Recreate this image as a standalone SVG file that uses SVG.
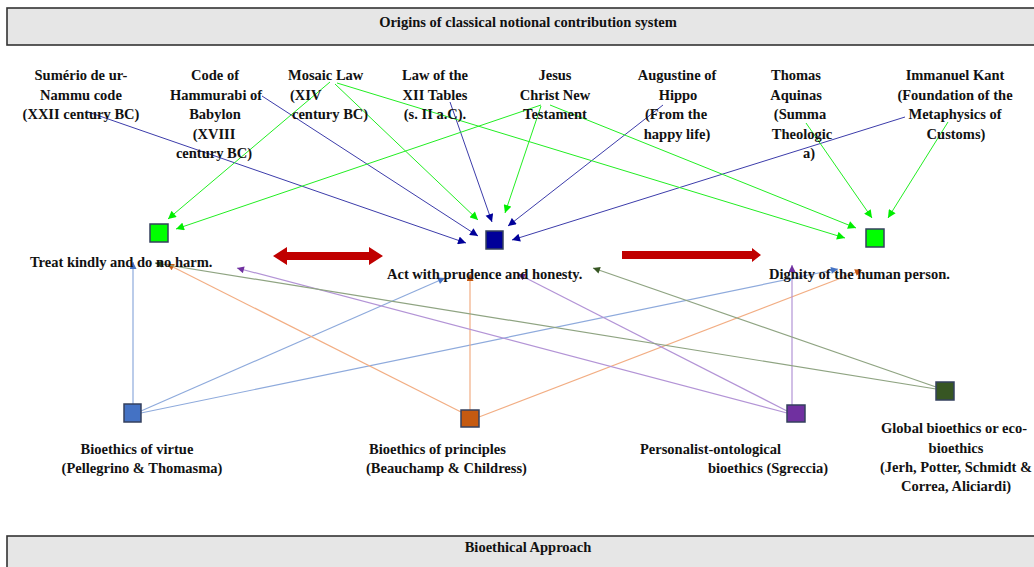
<svg xmlns="http://www.w3.org/2000/svg" width="1034" height="567" viewBox="0 0 1034 567">
<defs>
<style>
text{font-family:"Liberation Serif","Times New Roman",serif;font-weight:bold;font-size:14.5px;fill:#111}
.c{text-anchor:middle}
.hdr{fill:#e6e6e6;stroke:#333;stroke-width:1.6}
.sq{stroke:#34405e;stroke-width:1.5}
.nv{stroke:#3c3caa;stroke-width:1;fill:none;marker-end:url(#mNv)}
.gr{stroke:#22ee22;stroke-width:1;fill:none;marker-end:url(#mGr)}
.bl{stroke:#8eaadc;stroke-width:1.2;fill:none;marker-end:url(#mBl)}
.or{stroke:#f2ae84;stroke-width:1.2;fill:none;marker-end:url(#mOr)}
.pu{stroke:#b394d6;stroke-width:1.2;fill:none;marker-end:url(#mPu)}
.dg{stroke:#8fa482;stroke-width:1.2;fill:none;marker-end:url(#mDg)}
.red{fill:#c00000}
</style>
<marker id="mNv" viewBox="0 0 10 10" refX="10" refY="5" markerWidth="9" markerHeight="8" markerUnits="userSpaceOnUse" orient="auto"><path d="M0,0L10,5L0,10z" fill="#00009a"/></marker>
<marker id="mGr" viewBox="0 0 10 10" refX="10" refY="5" markerWidth="9" markerHeight="8" markerUnits="userSpaceOnUse" orient="auto"><path d="M0,0L10,5L0,10z" fill="#00ee00"/></marker>
<marker id="mBl" viewBox="0 0 10 10" refX="10" refY="5" markerWidth="8" markerHeight="7" markerUnits="userSpaceOnUse" orient="auto"><path d="M0,0L10,5L0,10z" fill="#4472c4"/></marker>
<marker id="mOr" viewBox="0 0 10 10" refX="10" refY="5" markerWidth="8" markerHeight="7" markerUnits="userSpaceOnUse" orient="auto"><path d="M0,0L10,5L0,10z" fill="#c55a11"/></marker>
<marker id="mPu" viewBox="0 0 10 10" refX="10" refY="5" markerWidth="8" markerHeight="7" markerUnits="userSpaceOnUse" orient="auto"><path d="M0,0L10,5L0,10z" fill="#7030a0"/></marker>
<marker id="mDg" viewBox="0 0 10 10" refX="10" refY="5" markerWidth="8" markerHeight="7" markerUnits="userSpaceOnUse" orient="auto"><path d="M0,0L10,5L0,10z" fill="#375623"/></marker>
</defs>
<rect width="1034" height="567" fill="#fff"/>

<g id="header-top">
<rect class="hdr" x="7" y="8" width="1040" height="37"/>
<text class="c" x="528" y="27">Origins of classical notional contribution system</text>
</g>
<g id="header-bottom">
<rect class="hdr" x="7" y="536" width="1040" height="40"/>
<text class="c" x="528" y="552">Bioethical Approach</text>
</g>

<g id="connectors">
<line class="nv" x1="88" y1="112" x2="466" y2="243"/>
<line class="nv" x1="262" y1="96" x2="478" y2="236"/>
<line class="nv" x1="450" y1="102" x2="492" y2="222"/>
<line class="nv" x1="663" y1="105" x2="508" y2="226"/>
<line class="nv" x1="905" y1="117" x2="512" y2="240"/>
<line class="gr" x1="330" y1="82" x2="168" y2="219"/>
<line class="gr" x1="335" y1="84" x2="478" y2="220"/>
<line class="gr" x1="337" y1="83" x2="845" y2="238"/>
<line class="gr" x1="541" y1="105" x2="176" y2="229"/>
<line class="gr" x1="541" y1="106" x2="505" y2="213"/>
<line class="gr" x1="550" y1="105" x2="856" y2="228"/>
<line class="gr" x1="806" y1="123" x2="872" y2="218"/>
<line class="gr" x1="948" y1="122" x2="888" y2="218"/>
<line class="bl" x1="133" y1="404" x2="133" y2="262"/>
<line class="bl" x1="141" y1="411" x2="445" y2="278"/>
<line class="bl" x1="141" y1="413" x2="838" y2="269"/>
<line class="or" x1="470" y1="410" x2="470" y2="274"/>
<line class="or" x1="461" y1="412" x2="167" y2="264"/>
<line class="or" x1="479" y1="417" x2="862" y2="270"/>
<line class="pu" x1="792" y1="405" x2="792" y2="265"/>
<line class="pu" x1="787" y1="413" x2="237" y2="268"/>
<line class="pu" x1="787" y1="411" x2="518" y2="274"/>
<line class="dg" x1="936" y1="389" x2="155" y2="263"/>
<line class="dg" x1="936" y1="387" x2="593" y2="268"/>
<polygon class="red" points="273,256 287,247 287,252 369,252 369,247 383,256 369,265 369,260 287,260 287,265"/>
<polygon class="red" points="622,251 752,251 752,248 761,255 752,262 752,259 622,259"/>
</g>

<g id="src-sumerio">
<text class="c" x="81" y="80">Sumério de ur-</text>
<text class="c" x="81" y="99.5">Nammu code</text>
<text class="c" x="81" y="119">(XXII century BC)</text>
</g>
<g id="src-hammurabi">
<text class="c" x="215" y="80">Code of</text>
<text class="c" x="216" y="99.5">Hammurabi of</text>
<text class="c" x="215" y="119">Babylon</text>
<text class="c" x="214" y="138.5">(XVIII</text>
<text class="c" x="214" y="158">century BC)</text>
</g>
<g id="src-mosaic">
<text x="288" y="80">Mosaic Law</text>
<text x="290" y="99.5">(XIV</text>
<text x="292" y="119">century BC)</text>
</g>
<g id="src-xii">
<text class="c" x="435" y="80">Law of the</text>
<text class="c" x="435" y="99.5">XII Tables</text>
<text class="c" x="435" y="119">(s. II a.C).</text>
</g>
<g id="src-jesus">
<text class="c" x="555" y="80">Jesus</text>
<text class="c" x="555" y="99.5">Christ New</text>
<text class="c" x="555" y="119">Testament</text>
</g>
<g id="src-augustine">
<text class="c" x="677" y="80">Augustine of</text>
<text class="c" x="678" y="99.5">Hippo</text>
<text class="c" x="676" y="119">(From the</text>
<text class="c" x="677" y="138.5">happy life)</text>
</g>
<g id="src-aquinas">
<text class="c" x="796" y="80">Thomas</text>
<text class="c" x="796" y="99.5">Aquinas</text>
<text class="c" x="800" y="119">(Summa</text>
<text class="c" x="802" y="138.5">Theologic</text>
<text class="c" x="809" y="158">a)</text>
</g>
<g id="src-kant">
<text class="c" x="955" y="80">Immanuel Kant</text>
<text class="c" x="955" y="99.5">(Foundation of the</text>
<text class="c" x="955" y="119">Metaphysics of</text>
<text class="c" x="956" y="138.5">Customs)</text>
</g>

<g id="value-harm">
<rect class="sq" x="150" y="224" width="18" height="18" fill="#00ff00"/>
<text x="30" y="267">Treat kindly and do no harm.</text>
</g>
<g id="value-prudence">
<rect class="sq" x="486" y="231" width="17" height="18" fill="#000099"/>
<text x="387" y="279">Act with prudence and honesty.</text>
</g>
<g id="value-dignity">
<rect class="sq" x="866" y="229" width="18" height="18" fill="#00ff00"/>
<text x="769" y="279">Dignity of the human person.</text>
</g>

<g id="approach-virtue">
<rect class="sq" x="124" y="404" width="17" height="18" fill="#4472c4"/>
<text class="c" x="137" y="454">Bioethics of virtue</text>
<text class="c" x="142" y="473">(Pellegrino &amp; Thomasma)</text>
</g>
<g id="approach-principles">
<rect class="sq" x="461" y="410" width="18" height="17" fill="#c55a11"/>
<text x="369" y="454">Bioethics of principles</text>
<text x="366" y="473">(Beauchamp &amp; Childress)</text>
</g>
<g id="approach-personalist">
<rect class="sq" x="787" y="405" width="18" height="17" fill="#7030a0"/>
<text x="640" y="454">Personalist-ontological</text>
<text x="708" y="473">bioethics (Sgreccia)</text>
</g>
<g id="approach-global">
<rect class="sq" x="936" y="382" width="18" height="18" fill="#375623"/>
<text class="c" x="954" y="433">Global bioethics or eco-</text>
<text class="c" x="956" y="452.5">bioethics</text>
<text class="c" x="956" y="472">(Jerh, Potter, Schmidt &amp;</text>
<text class="c" x="956" y="491">Correa, Aliciardi)</text>
</g>
</svg>
